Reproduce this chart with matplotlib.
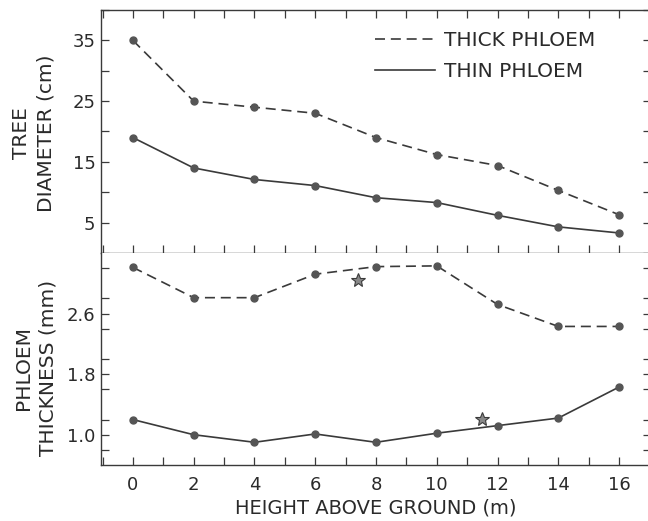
import numpy as np
import matplotlib
matplotlib.use('Agg')
import matplotlib.pyplot as plt
from matplotlib.ticker import MultipleLocator

plt.rcParams['font.family'] = ['DejaVu Sans']

# data
height = [0, 2, 4, 6, 8, 10, 12, 14, 16]
diam_thick = [35, 25, 24, 23, 19, 16.2, 14.4, 10.3, 6.3]
diam_thin = [19, 14, 12.1, 11.1, 9.1, 8.3, 6.2, 4.3, 3.3]
phl_thick = [3.21, 2.81, 2.81, 3.12, 3.22, 3.23, 2.72, 2.43, 2.43]
phl_thin = [1.2, 1.0, 0.9, 1.01, 0.9, 1.02, 1.12, 1.22, 1.63]
star_x = [7.4, 11.5]
star_y = [3.05, 1.21]

ink = '#3a3a3a'
txt = '#2a2a2a'
dot = '#555555'
W, H = 648, 521
fig = plt.figure(figsize=(W / 100, H / 100), dpi=100)

left, right = 101 / W, 651 / W
ax1 = fig.add_axes([left, 1 - 253 / H, right - left, 243 / H])
ax2 = fig.add_axes([left, 1 - 465 / H, right - left, 212 / H])

for ax in (ax1, ax2):
    ax.set_xlim(-1.05, 17.05)
    ax.xaxis.set_major_locator(MultipleLocator(2))
    ax.xaxis.set_minor_locator(MultipleLocator(1))
    ax.tick_params(which='both', direction='in', color=ink, labelcolor=txt,
                   labelsize=13, right=True, width=0.9, length=6)
    ax.tick_params(axis='y', pad=4)
    for s in ax.spines.values():
        s.set_color(ink)
        s.set_linewidth(1.0)

# top panel
ax1.plot(height, diam_thick, '--', color=ink, lw=1.2, dashes=(6, 3.5),
         marker='o', ms=5, mfc=dot, mec=dot, label='THICK PHLOEM')
ax1.plot(height, diam_thin, '-', color=ink, lw=1.2,
         marker='o', ms=5, mfc=dot, mec=dot, label='THIN PHLOEM')
ax1.set_ylim(0, 40)
ax1.set_yticks([5, 15, 25, 35])
ax1.yaxis.set_minor_locator(MultipleLocator(5))
ax1.tick_params(axis='x', which='both', top=True, bottom=True, labelbottom=False)
ax1.set_ylabel('TREE\nDIAMETER (cm)', fontsize=14.5, color=txt, linespacing=1.35)
ax1.yaxis.set_label_coords(-0.083, 0.494)
leg = ax1.legend(loc='upper left', bbox_to_anchor=(0.498, 0.915), frameon=False,
                 fontsize=14.5, handlelength=3.0, handletextpad=0.45,
                 labelspacing=0.6, borderpad=0, borderaxespad=0)
for h in leg.legend_handles:
    h.set_marker('')
for t in leg.get_texts():
    t.set_color(txt)

# bottom panel
ax2.plot(height, phl_thick, '--', color=ink, lw=1.2, dashes=(6, 3.5),
         marker='o', ms=5, mfc=dot, mec=dot)
ax2.plot(height, phl_thin, '-', color=ink, lw=1.2,
         marker='o', ms=5, mfc=dot, mec=dot)
ax2.plot(star_x, star_y, linestyle='none', marker='*', ms=10,
         mfc='#888888', mec=ink, mew=0.8)
ax2.set_ylim(0.6, 3.4)
ax2.set_yticks([1.0, 1.8, 2.6])
ax2.set_yticklabels(['1.0', '1.8', '2.6'])
ax2.yaxis.set_minor_locator(MultipleLocator(0.4))
ax2.tick_params(axis='x', which='both', top=False, bottom=True, pad=8)
ax2.spines['top'].set_visible(False)
ax2.set_ylabel('PHLOEM\nTHICKNESS (mm)', fontsize=14.5, color=txt, linespacing=1.35)
ax2.yaxis.set_label_coords(-0.08, 0.458)
ax2.set_xlabel('HEIGHT ABOVE GROUND (m)', fontsize=14, color=txt, labelpad=3)

fig.savefig('out.png', dpi=100)
